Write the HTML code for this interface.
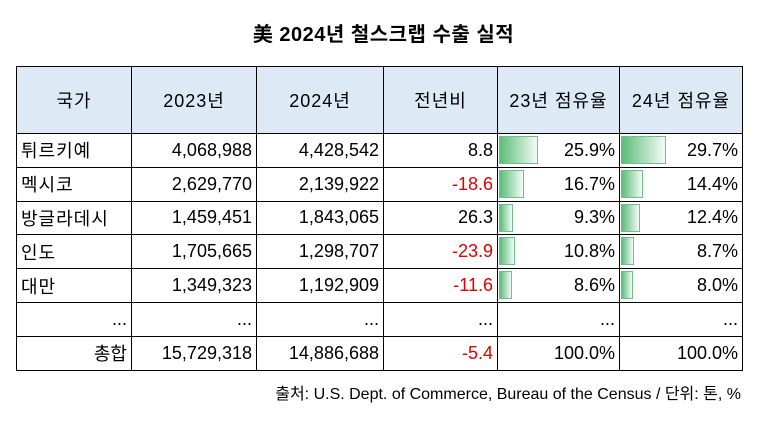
<!DOCTYPE html>
<html><head><meta charset="utf-8"><style>
body{margin:0;width:767px;height:427px;background:#fff;font-family:"Liberation Sans","Noto Sans CJK KR",sans-serif;position:relative;overflow:hidden}
.t{position:absolute;left:0;width:767px;top:18px;text-align:center;font-size:20px;font-weight:bold;color:#000;letter-spacing:0.5px}
table{position:absolute;left:16px;top:66px;border-collapse:collapse;font-size:18px;color:#000}
td{border:1px solid #000;height:32.8px;padding:0 4px;text-align:right;position:relative;white-space:nowrap}
tr.h td{background:#dde9f5;height:66px;text-align:center;letter-spacing:1px}
td.l{text-align:left;letter-spacing:1px}
.r{color:#e00000}
.b{position:absolute;left:1px;top:2px;height:28px;background:linear-gradient(to right,#5cbc7a,#f4fbf6);border:1px solid #6cc088;box-sizing:border-box}
span.v{position:relative}
.s{position:absolute;right:26px;top:380px;font-size:16px}
</style></head><body>
<div class="t">美 2024년 철스크랩 수출 실적</div>
<table>
<colgroup><col style="width:115px"><col style="width:125px"><col style="width:127px"><col style="width:114px"><col style="width:122px"><col style="width:123px"></colgroup>
<tr class="h"><td>국가</td><td>2023년</td><td>2024년</td><td>전년비</td><td>23년 점유율</td><td>24년 점유율</td></tr>
<tr><td class="l">튀르키예</td><td>4,068,988</td><td>4,428,542</td><td>8.8</td><td><div class="b" style="width:39px"></div><span class="v">25.9%</span></td><td><div class="b" style="width:45px"></div><span class="v">29.7%</span></td></tr>
<tr><td class="l">멕시코</td><td>2,629,770</td><td>2,139,922</td><td class="r">-18.6</td><td><div class="b" style="width:25px"></div><span class="v">16.7%</span></td><td><div class="b" style="width:22px"></div><span class="v">14.4%</span></td></tr>
<tr><td class="l">방글라데시</td><td>1,459,451</td><td>1,843,065</td><td>26.3</td><td><div class="b" style="width:14px"></div><span class="v">9.3%</span></td><td><div class="b" style="width:19px"></div><span class="v">12.4%</span></td></tr>
<tr><td class="l">인도</td><td>1,705,665</td><td>1,298,707</td><td class="r">-23.9</td><td><div class="b" style="width:16px"></div><span class="v">10.8%</span></td><td><div class="b" style="width:13px"></div><span class="v">8.7%</span></td></tr>
<tr><td class="l">대만</td><td>1,349,323</td><td>1,192,909</td><td class="r">-11.6</td><td><div class="b" style="width:13px"></div><span class="v">8.6%</span></td><td><div class="b" style="width:12px"></div><span class="v">8.0%</span></td></tr>
<tr><td>...</td><td>...</td><td>...</td><td>...</td><td>...</td><td>...</td></tr>
<tr><td>총합</td><td>15,729,318</td><td>14,886,688</td><td class="r">-5.4</td><td>100.0%</td><td>100.0%</td></tr>
</table>
<div class="s">출처: U.S. Dept. of Commerce, Bureau of the Census / 단위: 톤, %</div>
</body></html>
